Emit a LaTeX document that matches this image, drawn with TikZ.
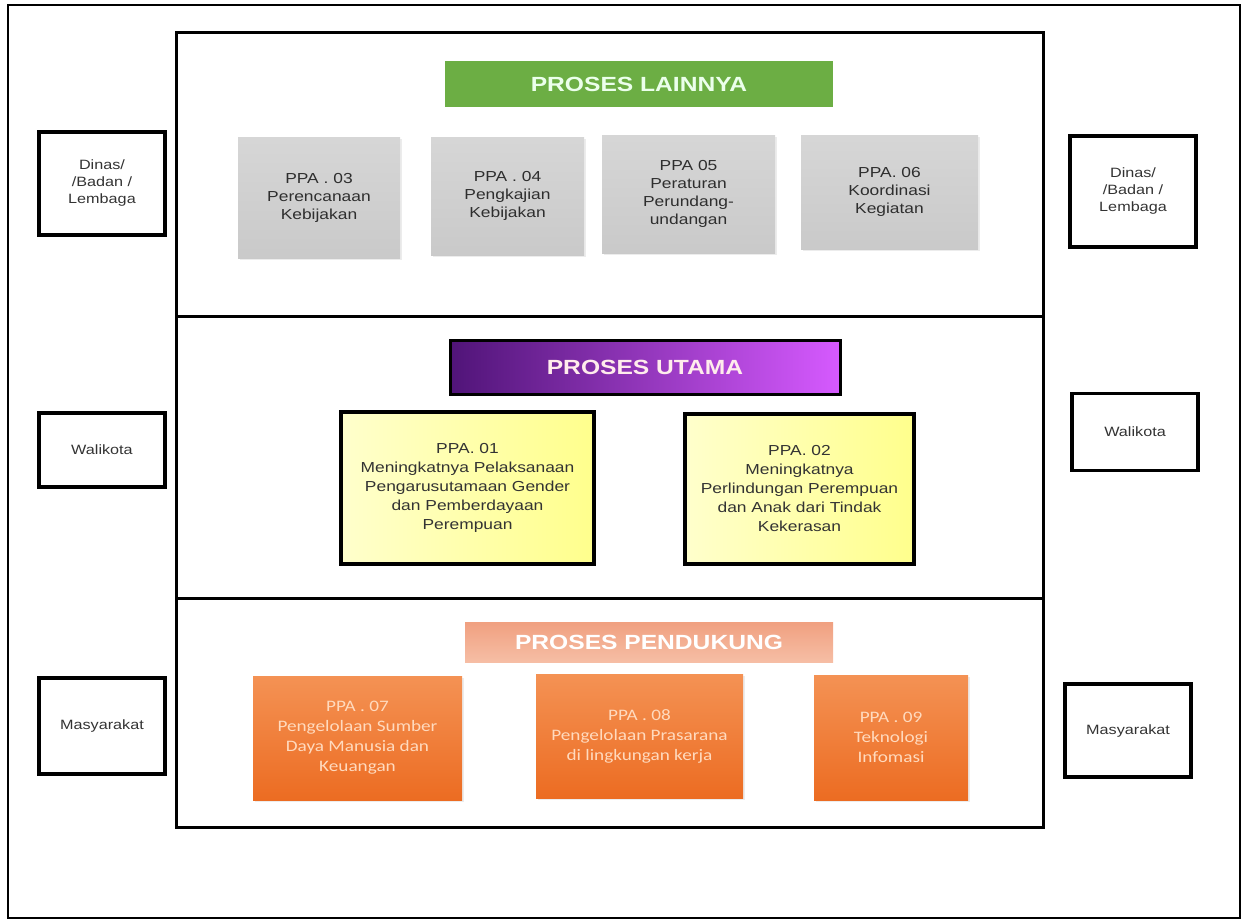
\documentclass[tikz,border=0pt]{standalone}
\usepackage{fontspec}
\setmainfont[FakeStretch=1.2]{Liberation Sans}
\newfontfamily\calfont[FakeStretch=1.2]{Carlito}
\usetikzlibrary{shadows}

\definecolor{lainnyagreen}{RGB}{108,174,68}
\definecolor{utamadark}{RGB}{80,20,120}
\definecolor{utamalight}{RGB}{214,90,255}
\definecolor{pendukungtop}{RGB}{240,160,128}
\definecolor{pendukungbot}{RGB}{246,190,165}
\definecolor{oranyetop}{RGB}{244,146,84}
\definecolor{oranyebot}{RGB}{236,108,34}
\definecolor{oranyetext}{RGB}{255,218,190}

\begin{document}
\begin{tikzpicture}[x=1pt, y=-1pt,
  sidebox/.style={draw, line width=3.2pt, align=center, text=black!80,
    font=\fontsize{13.5}{17}\selectfont, inner sep=0pt, minimum width=126pt},
  titlebox/.style={inner sep=0pt, font=\fontsize{20.5}{22}\selectfont\bfseries},
  greybox/.style={top color=black!16, bottom color=black!21, align=center,
    text=black!82, font=\fontsize{14.5}{18}\selectfont, inner sep=0pt,
    drop shadow={shadow xshift=2pt, shadow yshift=-2pt, opacity=0.15}},
  yellowbox/.style={draw, line width=3.2pt, left color=yellow!20, right color=yellow!45,
    align=center, text=black!80, font=\fontsize{14.5}{19}\selectfont, inner sep=0pt},
  orangebox/.style={top color=oranyetop, bottom color=oranyebot, align=center,
    text=oranyetext, font=\calfont\fontsize{16}{20}\selectfont, inner sep=0pt,
    drop shadow={shadow xshift=2pt, shadow yshift=-2pt, opacity=0.15}}]

  \useasboundingbox (0,0) rectangle (1246,923);

  % frames
  \draw[line width=1.6pt] (8,5) rectangle (1240,918);
  \draw[line width=3pt] (176,33) rectangle (1043,827);
  \draw[line width=3pt] (176,316) -- (1043,316);
  \draw[line width=3pt] (176,598) -- (1043,598);

  % proses lainnya
  \node[titlebox, fill=lainnyagreen, text=green!8, minimum width=388pt, minimum height=46pt]
    (lainnya) at (639,84) {PROSES LAINNYA};
  \node[greybox, minimum width=162pt, minimum height=121pt] (ppa03) at (319,197.5)
    {PPA . 03\\Perencanaan\\Kebijakan};
  \node[greybox, minimum width=153pt, minimum height=118pt] (ppa04) at (507.5,196)
    {PPA . 04\\Pengkajian\\Kebijakan};
  \node[greybox, minimum width=173pt, minimum height=118pt] (ppa05) at (688.5,194)
    {PPA 05\\Peraturan\\Perundang-\\undangan};
  \node[greybox, minimum width=177pt, minimum height=114pt] (ppa06) at (889.5,192)
    {PPA. 06\\Koordinasi\\Kegiatan};

  % proses utama
  \node[titlebox, draw, line width=3pt, left color=utamadark, right color=utamalight,
    text=pink!30, minimum width=390pt, minimum height=54pt] (utama) at (645,367) {PROSES UTAMA};
  \node[yellowbox, minimum width=253pt, minimum height=152pt] (ppa01) at (467.5,488)
    {PPA. 01\\Meningkatnya Pelaksanaan\\Pengarusutamaan Gender\\dan Pemberdayaan\\Perempuan};
  \node[yellowbox, minimum width=229pt, minimum height=150pt] (ppa02) at (799.5,489)
    {PPA. 02\\Meningkatnya\\Perlindungan Perempuan\\dan Anak dari Tindak\\Kekerasan};

  % proses pendukung
  \node[titlebox, top color=pendukungtop, bottom color=pendukungbot, text=white,
    minimum width=368pt, minimum height=40pt] (pendukung) at (649,642) {PROSES PENDUKUNG};
  \node[orangebox, minimum width=209pt, minimum height=124pt] (ppa07) at (357.5,738)
    {PPA . 07\\Pengelolaan Sumber\\Daya Manusia dan\\Keuangan};
  \node[orangebox, minimum width=207pt, minimum height=124pt] (ppa08) at (639.5,736)
    {PPA . 08\\Pengelolaan Prasarana\\di lingkungan kerja};
  \node[orangebox, minimum width=154pt, minimum height=125pt] (ppa09) at (891,737.5)
    {PPA . 09\\Teknologi\\Infomasi};

  % stakeholders
  \node[sidebox, minimum height=103pt] (dinasL) at (102,183.5) {Dinas/\\/Badan /\\Lembaga};
  \node[sidebox, minimum height=74pt] (walikotaL) at (102,450) {Walikota};
  \node[sidebox, minimum height=96pt] (masyarakatL) at (102,726) {Masyarakat};
  \node[sidebox, minimum height=111pt] (dinasR) at (1133,191.5) {Dinas/\\/Badan /\\Lembaga};
  \node[sidebox, minimum height=77pt] (walikotaR) at (1135,432) {Walikota};
  \node[sidebox, minimum height=93pt] (masyarakatR) at (1128,730.5) {Masyarakat};
\end{tikzpicture}
\end{document}
